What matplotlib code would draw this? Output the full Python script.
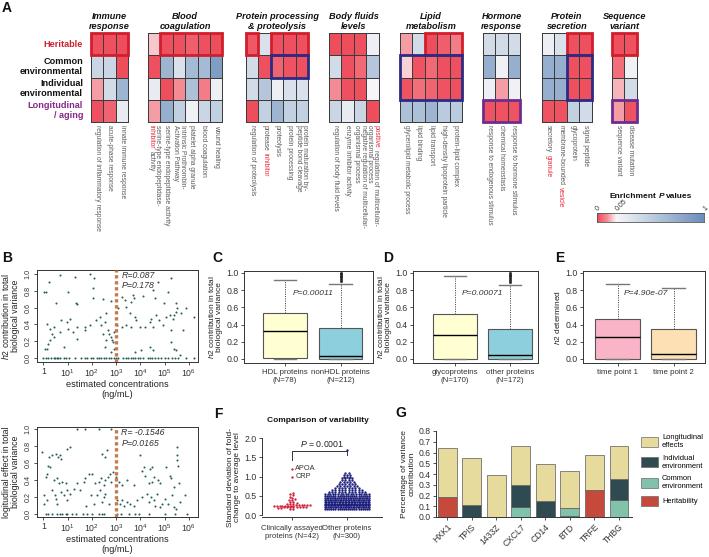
import re
import numpy as np
import matplotlib
matplotlib.use("Agg")
import matplotlib.pyplot as plt
from matplotlib.colors import LinearSegmentedColormap
from matplotlib.patches import Rectangle, Patch

plt.rcParams['font.family'] = ['Liberation Sans', 'DejaVu Sans']
plt.rcParams['mathtext.fontset'] = 'custom'
plt.rcParams['mathtext.rm'] = 'Liberation Sans'
plt.rcParams['mathtext.it'] = 'Liberation Sans:italic'
plt.rcParams['mathtext.bf'] = 'Liberation Sans:bold'
plt.rcParams['axes.linewidth'] = 0.7

# ======================= DATA =======================
# ---- Panel A: enrichment P values (rows: heritable, common env, individual env, longitudinal)
row_labels = ['Heritable', 'Common\nenvironmental', 'Individual\nenvironmental', 'Longitudinal\n/ aging']
group_titles = ['Immune\nresponse', 'Blood\ncoagulation', 'Protein processing\n& proteolysis',
                'Body fluids\nlevels', 'Lipid\nmetabolism', 'Hormone\nresponse',
                'Protein\nsecretion', 'Sequence\nvariant']
immune_p = [[0.003, 0.003, 0.002],
            [0.35, 0.35, 0.002],
            [0.03, 0.30, 0.65],
            [0.003, 0.01, 0.15]]
blood_p = [[0.04, 0.003, 0.003, 0.008, 0.003, 0.002],
           [0.003, 0.65, 0.25, 0.60, 0.60, 0.85],
           [0.15, 0.002, 0.025, 0.55, 0.02, 0.12],
           [0.03, 0.70, 0.40, 0.10, 0.35, 0.40]]
protein_p = [[0.006, 0.25, 0.003, 0.003, 0.003],
             [0.30, 0.003, 0.01, 0.004, 0.003],
             [0.30, 0.50, 0.12, 0.25, 0.25],
             [0.002, 0.40, 0.65, 0.40, 0.40]]
fluids_p = [[0.002, 0.002, 0.003, 0.12],
            [0.30, 0.003, 0.012, 0.50],
            [0.025, 0.003, 0.003, 0.06],
            [0.35, 0.15, 0.35, 0.002]]
lipid_p = [[0.03, 0.30, 0.002, 0.008, 0.02],
           [0.042, 0.004, 0.012, 0.003, 0.003],
           [0.004, 0.015, 0.01, 0.004, 0.003],
           [0.55, 0.55, 0.65, 0.45, 0.45]]
hormone_p = [[0.30, 0.30, 0.30],
             [0.70, 0.10, 0.70],
             [0.12, 0.03, 0.10],
             [0.004, 0.004, 0.004]]
secretion_p = [[0.12, 0.25, 0.003, 0.003],
               [0.70, 0.70, 0.003, 0.003],
               [0.70, 0.70, 0.003, 0.003],
               [0.004, 0.004, 0.40, 0.30]]
variant_p = [[0.003, 0.004],
             [0.015, 0.10],
             [0.035, 0.30],
             [0.03, 0.004]]
immune_terms = ['regulation of inflammatory response', 'acute-phase response', 'innate immune response']
blood_terms = ['serine-type endopeptidase-\n{inhibitor} activity', 'serine-type endopeptidase activity',
               'Intrinsic Prothrombin-\nActivation Pathway', 'platelet alpha granule',
               'blood coagulation', 'wound healing']
protein_terms = ['regulation of proteolysis', 'protease {inhibitor}', 'proteolysis',
                 'protein processing', 'protein maturation by-\npeptide bond cleavage']
fluids_terms = ['regulation of body fluid levels', 'enzyme inhibitor activity',
                'negative regulation of multicellular-\norganismal process',
                '{positive} regulation of multicellular-\norganismal process']
lipid_terms = ['glycerolipid metabolic process', 'lipid binding', 'lipid transport',
               'high-density lipoprotein particle', 'protein-lipid complex']
hormone_terms = ['response to endogenous stimulus', 'chemical homeostasis', 'response to hormone stimulus']
secretion_terms = ['secretory {granule}', 'membrane-bounded {vesicle}', 'glycoprotein', 'signal peptide']
variant_terms = ['sequence variant', 'disease mutation']
# highlighted boxes: (group, first row, last row, first col, last col, kind)
highlight_boxes = [(0, 0, 0, 0, 2, 'H'), (1, 0, 0, 1, 5, 'H'),
                   (2, 0, 0, 0, 0, 'H'), (2, 0, 0, 2, 4, 'H'), (2, 1, 1, 2, 4, 'E'),
                   (4, 0, 0, 2, 4, 'H'), (4, 1, 2, 0, 4, 'E'),
                   (5, 3, 3, 0, 2, 'L'),
                   (6, 0, 0, 2, 3, 'H'), (6, 1, 2, 2, 3, 'E'),
                   (7, 0, 0, 0, 1, 'H'), (7, 3, 3, 0, 1, 'L')]

# ---- Panel B: log10 estimated concentration vs h2 / longitudinal effect
b1_logconc = [0.23, 0.68, 1.30, 1.92, 2.10, 2.05, 1.00, 0.04, 0.11, 0.51, 1.36, 1.41, 2.05, 2.47, 2.81,
              3.25, 3.36, 3.70, 3.74, 3.63, 4.11, 4.73, 4.52, 4.59, 5.27, 5.14, 4.97, 5.48, 5.52, 5.48,
              5.41, 5.89, 6.21, 3.08, 3.42,
              0.14, 0.27, 0.45, 0.68, 0.75, 0.96, 1.03, 1.10, 1.23, 1.41, 1.71, 1.74, 1.92, 2.19, 2.33,
              2.40, 2.47, 2.53, 2.58, 2.67, 2.70, 2.81, 2.84, 2.88, 2.92, 3.05, 3.25, 3.42, 3.56, 3.63,
              3.77, 3.84, 3.97, 4.18, 4.38, 4.45, 4.52, 4.66, 4.79, 4.93, 5.07, 5.21, 5.27, 5.34, 5.68, 5.75,
              0.07, 0.16, 0.21, 0.27, 0.34, 0.45, 0.86, 1.37, 2.53, 2.60, 2.81, 2.92, 3.77, 4.01, 4.38,
              4.52, 5.27, 5.41, 5.48, 5.62,
              0.00, 0.10, 0.20, 0.30, 0.45, 0.50, 0.55, 0.60, 0.70, 0.85, 0.95, 1.05, 1.30, 1.55, 1.70,
              1.80, 1.95, 2.05, 2.20, 2.30, 2.40, 2.50, 2.60, 2.70, 2.80, 2.90, 3.00, 3.10, 3.30, 3.40,
              3.50, 3.60, 3.70, 3.80, 3.90, 4.00, 4.10, 4.30, 4.40, 4.50, 4.60, 4.75, 4.85, 5.00, 5.15,
              5.30, 5.45, 5.55, 5.90, 6.20]
b1_h2 = [0.91, 0.99, 0.96, 1.00, 0.95, 0.83, 0.78, 0.78, 0.78, 0.66, 0.65, 0.64, 0.71, 0.70, 0.68,
         0.73, 0.69, 0.75, 0.71, 0.67, 0.74, 0.91, 0.81, 0.71, 0.95, 0.79, 0.66, 0.65, 0.59, 0.55,
         0.51, 0.59, 0.49, 0.60, 0.61,
         0.41, 0.35, 0.37, 0.31, 0.45, 0.43, 0.35, 0.47, 0.31, 0.37, 0.33, 0.37, 0.39, 0.45, 0.49,
         0.39, 0.29, 0.43, 0.53, 0.33, 0.29, 0.25, 0.21, 0.19, 0.31, 0.39, 0.37, 0.39, 0.53, 0.37,
         0.49, 0.45, 0.37, 0.37, 0.43, 0.47, 0.37, 0.51, 0.45, 0.39, 0.49, 0.51, 0.33, 0.47, 0.53, 0.33,
         0.11, 0.11, 0.17, 0.21, 0.29, 0.25, 0.13, 0.23, 0.13, 0.21, 0.07, 0.11, 0.07, 0.09, 0.13,
         0.09, 0.19, 0.11, 0.09, 0.03,
         0.0, 0.0, 0.0, 0.0, 0.0, 0.0, 0.0, 0.0, 0.0, 0.0, 0.0, 0.0, 0.0, 0.0, 0.0,
         0.0, 0.0, 0.0, 0.0, 0.0, 0.0, 0.0, 0.0, 0.0, 0.0, 0.0, 0.0, 0.0, 0.0, 0.0,
         0.0, 0.0, 0.0, 0.0, 0.0, 0.0, 0.0, 0.0, 0.0, 0.0, 0.0, 0.0, 0.0, 0.0, 0.0,
         0.0, 0.0, 0.0, 0.0, 0.0]
b2_logconc = [1.40, 1.74, 2.29, 2.81, -0.04, 0.23, 0.19, 0.26, 0.37, 0.51, 0.60, 0.68, 0.74, 0.99, 1.10,
              2.42, 2.56, 2.63, 4.00, 4.41, 4.07, 4.14, 4.48, 5.07, 5.51, 5.51, 5.53, 5.55,
              0.10, 0.14, 0.44, 0.55, 0.64, 0.78, 0.92, 0.99, 1.40, 1.67, 1.74, 1.88, 2.01, 2.15, 2.29,
              2.36, 2.49, 2.56, 2.66, 2.74, 2.79, 2.88, 3.01, 3.11, 3.25, 3.45, 3.73, 4.21, 4.34, 4.48,
              4.55, 4.75, 4.82, 5.23, 5.26, 5.37, 5.58,
              0.03, 0.03, 0.16, 0.37, 0.47, 0.51, 0.58, 0.71, 0.85, 0.99, 1.12, 1.26, 1.53, 1.78, 1.95,
              2.08, 2.22, 2.33, 2.42, 2.49, 2.56, 2.70, 3.04, 3.15, 3.25, 3.32, 3.45, 3.59, 3.73, 3.86,
              4.07, 4.27, 4.34, 4.44, 4.55, 4.62, 4.68, 4.82, 4.89, 5.03, 5.16, 5.30, 5.37, 5.48, 5.64, 5.85,
              0.10, 0.19, 0.37, 0.58, 0.68, 0.78, 0.92, 0.99, 1.19, 1.33, 1.64, 1.81, 2.01, 2.29, 2.42,
              2.49, 3.04, 3.21, 3.52, 3.79, 3.93, 4.34, 5.03, 5.44, 5.92]
b2_long = [1.0, 1.0, 1.0, 1.0, 0.73, 0.67, 0.57, 0.55, 0.69, 0.71, 0.67, 0.69, 0.65, 0.77, 0.79,
           0.71, 0.67, 0.75, 0.69, 0.53, 0.51, 0.55, 0.55, 0.55, 0.79, 0.69, 0.63, 0.57,
           0.43, 0.47, 0.40, 0.42, 0.36, 0.38, 0.36, 0.28, 0.36, 0.38, 0.42, 0.47, 0.47, 0.36, 0.38,
           0.42, 0.34, 0.40, 0.43, 0.47, 0.38, 0.49, 0.43, 0.38, 0.34, 0.40, 0.34, 0.45, 0.36, 0.38,
           0.43, 0.40, 0.36, 0.45, 0.42, 0.32, 0.36,
           0.22, 0.12, 0.16, 0.28, 0.22, 0.18, 0.12, 0.26, 0.22, 0.16, 0.24, 0.30, 0.28, 0.10, 0.22,
           0.12, 0.22, 0.28, 0.14, 0.20, 0.24, 0.12, 0.16, 0.12, 0.16, 0.10, 0.14, 0.12, 0.10, 0.16,
           0.20, 0.24, 0.14, 0.20, 0.16, 0.10, 0.24, 0.08, 0.12, 0.18, 0.12, 0.22, 0.08, 0.06, 0.14, 0.22,
           0.0, 0.0, 0.0, 0.0, 0.0, 0.0, 0.0, 0.0, 0.0, 0.0, 0.0, 0.0, 0.0, 0.0, 0.0,
           0.0, 0.0, 0.0, 0.0, 0.0, 0.0, 0.0, 0.0, 0.0, 0.0]

# ---- Panels C, D, E: box summaries (q1, median, q3, whisker low, whisker high, outliers)
C_labels = ['HDL proteins\n(N=78)', 'nonHDL proteins\n(N=212)']
C_q1 = [0.01, 0.0]; C_med = [0.33, 0.04]; C_q3 = [0.54, 0.36]
C_lo = [0.0, 0.0]; C_hi = [0.92, 0.87]
C_out = [[], [0.91, 0.93, 0.95, 0.97, 0.99, 1.0]]
D_labels = ['glycoproteins\n(N=170)', 'other proteins\n(N=172)']
D_q1 = [0.0, 0.0]; D_med = [0.28, 0.05]; D_q3 = [0.52, 0.35]
D_lo = [0.0, 0.0]; D_hi = [0.96, 0.86]
D_out = [[], [0.90, 0.92, 0.94, 0.96, 0.98, 1.0]]
E_labels = ['time point 1', 'time point 2']
E_q1 = [0.0, 0.0]; E_med = [0.25, 0.06]; E_q3 = [0.46, 0.35]
E_lo = [0.0, 0.0]; E_hi = [0.87, 0.83]
E_out = [[], []]

# ---- Panel F: SD of fold-change
F_clinical = [0.15, 0.17, 0.18, 0.19, 0.20, 0.20, 0.21, 0.21, 0.22, 0.22, 0.22, 0.22,
              0.23, 0.23, 0.23, 0.23, 0.24, 0.24, 0.24, 0.24, 0.25, 0.25, 0.25, 0.26, 0.26,
              0.27, 0.28, 0.29, 0.30, 0.31, 0.33, 0.35, 0.38, 0.40, 0.42, 0.45, 0.48, 0.52,
              0.55, 0.56, 1.00, 1.20]
F_other_levels = [0.15, 0.20, 0.25, 0.30, 0.35, 0.40, 0.45, 0.50, 0.55, 0.60, 0.65, 0.70,
                  0.75, 0.80, 0.85, 0.90, 0.95, 1.00, 1.05, 1.10, 1.70]
F_other_counts = [22, 28, 31, 30, 30, 28, 26, 22, 18, 12, 10, 8, 7, 6, 5, 4, 4, 3, 3, 2, 1]
F_groups = ['Clinically assayed\nproteins (N=42)', 'Other proteins\n(N=300)']

# ---- Panel G: variance components
G_proteins = ['HXK1', 'TPIS', '1433Z', 'CXCL7', 'CD14', 'BTD', 'TRFE', 'THBG']
G_herit = [0.19, 0.0, 0.0, 0.0, 0.0, 0.012, 0.248, 0.0]
G_common = [0.0, 0.0, 0.0, 0.093, 0.0, 0.072, 0.0, 0.161]
G_indiv = [0.0, 0.115, 0.0, 0.207, 0.146, 0.0, 0.0, 0.189]
G_long = [0.45, 0.435, 0.39, 0.365, 0.35, 0.341, 0.332, 0.315]

# ======================= FIGURE =======================
W, H = 709, 557
fig = plt.figure(figsize=(W / 100, H / 100), dpi=100)
renderer = fig.canvas.get_renderer()


def rect(x0, y0, x1, y1):
    return [x0 / W, 1 - y1 / H, (x1 - x0) / W, (y1 - y0) / H]


def fx(x):
    return x / W


def fy(y):
    return 1 - y / H


TXT = '#222222'
RED_T = '#e8283c'
LAB_GRAY = '#5a5a5a'

# ---------- Panel A ----------
cmap = LinearSegmentedColormap.from_list('enrich', [(0.0, '#ee4a5a'), (0.09, '#f48a93'),
                                                    (0.18, '#f8f6f8'), (0.45, '#c8d5e5'),
                                                    (1.0, '#6a8dba')])
box_colors = {'H': '#d01e2c', 'E': '#2b2a84', 'L': '#6c2d90'}
mats = [immune_p, blood_p, protein_p, fluids_p, lipid_p, hormone_p, secretion_p, variant_p]
terms = [immune_terms, blood_terms, protein_terms, fluids_terms, lipid_terms, hormone_terms,
         secretion_terms, variant_terms]
group_left = [91, 148, 246, 329, 400, 483, 542, 612]
cell_w = 12.4
hm_top, hm_bot = 33, 122
LAB_FS = 4.8
space_px = LAB_FS * 100 / 72 * 0.278


def rot_label(xc, y0, markup, fs=LAB_FS, dl=6.3):
    lines = markup.split('\n')
    n = len(lines)
    for k, line in enumerate(lines):
        x = xc + ((n - 1) / 2 - k) * dl
        y = y0
        for part in re.split(r'(\{[^}]*\})', line):
            if not part:
                continue
            red = part.startswith('{')
            s = part.strip('{}')
            lead = len(s) - len(s.lstrip(' '))
            trail = len(s) - len(s.rstrip(' '))
            s2 = s.strip(' ')
            y += lead * space_px
            t = fig.text(fx(x), fy(y), s2, rotation=270, rotation_mode='anchor', ha='left',
                         va='center', fontsize=fs, color=RED_T if red else LAB_GRAY)
            bb = t.get_window_extent(renderer)
            y += bb.height + trail * space_px


axes_A = []
for gi, mat in enumerate(mats):
    m = np.array(mat, float)
    nc = m.shape[1]
    left = group_left[gi]
    ax = fig.add_axes(rect(left, hm_top, left + nc * cell_w, hm_bot))
    mesh = ax.pcolormesh(np.interp(m, [0, 0.05, 1], [0, 0.18, 1]), cmap=cmap, vmin=0, vmax=1,
                         edgecolors='#3c3c3c', linewidth=0.6)
    mesh.set_clip_on(False)
    ax.set_xlim(0, nc)
    ax.set_ylim(4, 0)
    ax.axis('off')
    fig.text(fx(left + nc * cell_w / 2), fy(31), group_titles[gi], ha='center', va='bottom',
             fontsize=6.6, fontweight='bold', fontstyle='italic', linespacing=1.1, color='#111111')
    for j, lab in enumerate(terms[gi]):
        rot_label(left + (j + 0.5) * cell_w, 125.5, lab)
    axes_A.append(ax)

for (g, r0, r1, c0, c1, kind) in highlight_boxes:
    axes_A[g].add_patch(Rectangle((c0, r0), c1 - c0 + 1, r1 - r0 + 1, fill=False,
                                  edgecolor=box_colors[kind], linewidth=2.0, clip_on=False, zorder=5))

row_colors = ['#cc2030', '#111111', '#111111', '#86298a']
row_h = (hm_bot - hm_top) / 4
for i, lab in enumerate(row_labels):
    fig.text(fx(83), fy(hm_top + (i + 0.5) * row_h), lab, ha='right', va='center', fontsize=6.6,
             fontweight='bold', color=row_colors[i], linespacing=1.15)

# colorbar
cax = fig.add_axes(rect(597, 213, 704, 222))
cax.imshow(np.linspace(0, 1, 256)[None, :], aspect='auto', cmap=cmap, extent=[0, 1, 0, 1])
cax.set_xticks([])
cax.set_yticks([])
for s in cax.spines.values():
    s.set_color('#555555')
    s.set_linewidth(0.6)
for pos, lab in [(0.0, '0'), (0.18, '0.05'), (1.0, '1')]:
    cax.text(pos, 1.35, lab, rotation=45, rotation_mode='anchor', ha='left', va='center',
             fontsize=5.0, color='#333333', transform=cax.transAxes)
# colorbar title with italic P
pieces = [('Enrichment', 'normal'), ('P', 'italic'), ('values', 'normal')]
tobjs = []
for s, st in pieces:
    tobjs.append(fig.text(0, fy(196), s, fontsize=6.0, fontweight='bold', fontstyle=st,
                          ha='left', va='center', color='#111111'))
widths = [t.get_window_extent(renderer).width for t in tobjs]
gap = 6.0 * 100 / 72 * 0.278
total = sum(widths) + gap * (len(widths) - 1)
x = 651 - total / 2
for t, wdt in zip(tobjs, widths):
    t.set_x(fx(x))
    x += wdt + gap

# ---------- Panel letters ----------
for lab, (x, y) in {'A': (7, 8), 'B': (7, 258), 'C': (217, 258), 'D': (388, 258), 'E': (560, 258),
                    'F': (218, 414), 'G': (401, 413)}.items():
    fig.text(fx(x), fy(y), lab, fontsize=10, fontweight='bold', ha='center', va='center',
             color='#111111')


def rstyle(ax):
    for s in ax.spines.values():
        s.set_linewidth(0.7)
        s.set_color('#333333')
    ax.tick_params(direction='out', length=2.5, width=0.6, labelsize=6.0, colors='#333333', pad=1.5)


# ---------- Panel B ----------
def scatter_panel(ax, logc, vals, ylim, ylabel, rtxt, ptxt):
    ax.scatter(10 ** np.array(logc), vals, s=2.2, c='#2c5f5c', marker='o', linewidths=0, zorder=3)
    ax.set_xscale('log')
    ax.set_xlim(10 ** -0.26, 10 ** 6.38)
    ax.set_ylim(*ylim)
    ax.axvline(1000, color='#c47a4c', lw=2.4, ls=(0, (1.0, 0.8)), dash_capstyle='butt', zorder=4)
    ax.set_xticks([10 ** k for k in range(7)])
    ax.set_xticklabels(['1'] + ['$10^{%d}$' % k for k in range(1, 7)])
    ax.minorticks_off()
    ax.xaxis.set_minor_locator(matplotlib.ticker.NullLocator())
    ax.set_yticks([0, 0.2, 0.4, 0.6, 0.8, 1.0])
    ax.set_yticklabels(['0.0', '0.2', '0.4', '0.6', '0.8', '1.0'], rotation=90, va='center')
    rstyle(ax)
    ax.tick_params(axis='y', labelsize=5.2)
    ax.tick_params(axis='x', labelsize=6.3, pad=1)
    ax.set_xlabel('estimated concentrations\n(ng/mL)', fontsize=6.6, labelpad=1, color=TXT,
                  linespacing=1.15)
    ax.set_ylabel(ylabel, fontsize=6.3, labelpad=3, color=TXT, linespacing=1.1)
    ax.text(10 ** 3.22, ylim[1] - 0.06, rtxt, fontsize=6.3, fontstyle='italic', va='center', color='#333333')
    ax.text(10 ** 3.22, ylim[1] - 0.19, ptxt, fontsize=6.3, fontstyle='italic', va='center', color='#333333')


axB1 = fig.add_axes(rect(37, 270, 198, 362))
scatter_panel(axB1, b1_logconc, b1_h2, (-0.048, 1.048),
              '$\\mathit{h2}$ contribution in total\nbiological variance', 'R=0.087', 'P=0.178')
axB2 = fig.add_axes(rect(37, 427, 198, 517))
scatter_panel(axB2, b2_logconc, b2_long, (-0.035, 1.024),
              'logitudinal effect in total\nbiological variance', 'R= -0.1546', 'P=0.0165')


# ---------- Panels C, D, E ----------
def box_panel(axrect, q1, med, q3, lo, hi, out, labels, colors, xlim, ylabel, ptxt):
    ax = fig.add_axes(axrect)
    stats = [dict(q1=q1[i], med=med[i], q3=q3[i], whislo=lo[i], whishi=hi[i], fliers=out[i])
             for i in range(2)]
    bp = ax.bxp(stats, positions=[1, 2], widths=0.79, patch_artist=True, showfliers=True,
                boxprops=dict(edgecolor='#555555', linewidth=0.8),
                medianprops=dict(color='black', linewidth=1.0),
                whiskerprops=dict(color='#555555', linewidth=0.7, linestyle=(0, (1.2, 1.2))),
                capprops=dict(color='#777777', linewidth=1.0),
                flierprops=dict(marker='o', markersize=1.8, markerfacecolor='#222222',
                                markeredgecolor='#222222', markeredgewidth=0.3),
                capwidths=0.4)
    for patch, c in zip(bp['boxes'], colors):
        patch.set_facecolor(c)
    ax.set_xlim(*xlim)
    ax.set_ylim(-0.047, 1.023)
    ax.set_yticks([0, 0.2, 0.4, 0.6, 0.8, 1.0])
    ax.set_yticklabels(['0.0', '0.2', '0.4', '0.6', '0.8', '1.0'])
    ax.set_xticks([1, 2])
    ax.set_xticklabels(labels)
    rstyle(ax)
    ax.tick_params(axis='y', labelsize=6.3)
    ax.tick_params(axis='x', labelsize=5.7, pad=2)
    ax.set_ylabel(ylabel, fontsize=6.0, labelpad=2, color=TXT, linespacing=1.1)
    ax.text(1.5, 0.76, ptxt, fontsize=6.1, fontstyle='italic', ha='center', va='center', color='#333333')
    return ax


h2lab = '$\\mathit{h2}$ contribution in total\nbiological variance'
box_panel(rect(244, 271, 373, 363), C_q1, C_med, C_q3, C_lo, C_hi, C_out, C_labels,
          ['#ffffd2', '#8dcfdc'], (0.26, 2.585), h2lab, 'P=0.00011')
box_panel(rect(413, 271, 538, 363), D_q1, D_med, D_q3, D_lo, D_hi, D_out, D_labels,
          ['#ffffd2', '#8dcfdc'], (0.243, 2.5), h2lab, 'P=0.00071')
box_panel(rect(583, 271, 705, 363), E_q1, E_med, E_q3, E_lo, E_hi, E_out, E_labels,
          ['#f9b4c8', '#fde0b4'], (0.384, 2.56), '$\\mathit{h2}$ determined', 'P=4.90e-07')


# ---------- Panel F ----------
def swarm_xy(values, center, binw, step_max, width_max):
    vals = np.sort(np.asarray(values, float))
    keys = np.round(vals / binw).astype(int)
    xs = np.zeros_like(vals)
    for k in np.unique(keys):
        idx = np.where(keys == k)[0]
        n = len(idx)
        step = min(step_max, width_max / max(n, 1))
        xs[idx] = center + (np.arange(n) - (n - 1) / 2) * step
    return xs, vals


axF = fig.add_axes(rect(262, 438, 382, 517))
xr, yr = swarm_xy(F_clinical, 0, 0.05, 0.055, 0.70)
other_vals = np.repeat(F_other_levels, F_other_counts)
xb, yb = swarm_xy(other_vals, 1, 0.05, 0.06, 0.84)
axF.plot(xr, yr, 'o', ms=1.7, color='#d0203a', mew=0, zorder=3)
axF.plot(xb, yb, 'o', ms=1.7, color='#1c1f7c', mew=0, zorder=3)
axF.set_xlim(-0.545, 1.636)
axF.set_ylim(-0.05, 2.0)
axF.spines['top'].set_visible(False)
axF.spines['right'].set_visible(False)
axF.spines['left'].set_bounds(0, 2)
for s in ['left', 'bottom']:
    axF.spines[s].set_linewidth(0.7)
    axF.spines[s].set_color('#333333')
axF.set_yticks([0, 0.5, 1.0, 1.5, 2.0])
axF.set_yticklabels(['0.0', '0.5', '1.0', '1.5', '2.0'])
axF.set_xticks([0, 1])
axF.set_xticklabels(F_groups)
axF.tick_params(direction='out', length=2.5, width=0.6, labelsize=6.3, colors='#333333', pad=1.5)
axF.tick_params(axis='x', labelsize=5.6, pad=3)
axF.set_ylabel('Standard deviation of fold-\nchange to average level', fontsize=6.0, labelpad=2,
               color=TXT, linespacing=1.1)
axF.plot([0, 0, 1, 1], [1.43, 1.65, 1.65, 1.55], color='#333333', lw=0.7)
axF.text(0.55, 1.72, '$\\mathit{P}$ = 0.0001', fontsize=6.3, ha='center', va='bottom', color='#222222')
axF.text(0.06, 1.20, 'APOA', fontsize=5.3, va='center', color='#333333')
axF.text(0.06, 1.00, 'CRP', fontsize=5.3, va='center', color='#333333')
fig.text(fx(318), fy(420), 'Comparison of variability', fontsize=6.0, fontweight='bold',
         ha='center', va='center', color='#111111')

# ---------- Panel G ----------
axG = fig.add_axes(rect(436, 431, 632, 517))
xg = np.arange(len(G_proteins))
bottom = np.zeros(len(G_proteins))
G_colors = {'Heritability': '#c64a3c', 'Common\nenvironment': '#80c3aa',
            'Individual\nenvironment': '#2f4a51', 'Longitudinal\neffects': '#e6da9c'}
for vals, name in [(G_herit, 'Heritability'), (G_common, 'Common\nenvironment'),
                   (G_indiv, 'Individual\nenvironment'), (G_long, 'Longitudinal\neffects')]:
    v = np.array(vals)
    axG.bar(xg, v, 0.77, bottom=bottom, color=G_colors[name], edgecolor='#5a5a5a', linewidth=0.5)
    bottom = bottom + v
axG.set_xlim(-0.45, 7.53)
axG.set_ylim(0, 0.8)
axG.spines['top'].set_visible(False)
axG.spines['right'].set_visible(False)
for s in ['left', 'bottom']:
    axG.spines[s].set_linewidth(0.7)
    axG.spines[s].set_color('#333333')
axG.set_yticks(np.round(np.arange(0, 0.81, 0.1), 1))
axG.set_yticklabels(['%.1f' % v for v in np.arange(0, 0.81, 0.1)])
axG.set_xticks(xg)
axG.set_xticklabels(G_proteins, rotation=45, ha='right', rotation_mode='anchor')
axG.tick_params(direction='out', length=2.5, width=0.6, labelsize=6.2, colors='#333333', pad=1.5)
axG.set_ylabel('Percentage of variance\ncontribution', fontsize=6.1, labelpad=2, color=TXT,
               linespacing=1.1)
order = ['Longitudinal\neffects', 'Individual\nenvironment', 'Common\nenvironment', 'Heritability']
handles = [Patch(facecolor=G_colors[k], edgecolor='#6a6a6a', linewidth=0.5) for k in order]
fig.legend(handles, order, loc='upper left', bbox_to_anchor=(fx(641), fy(434)),
           frameon=False, fontsize=5.4, handlelength=2.2, handleheight=1.7, labelspacing=0.75,
           handletextpad=0.6, borderaxespad=0, borderpad=0)

fig.savefig('out.png', dpi=100)
